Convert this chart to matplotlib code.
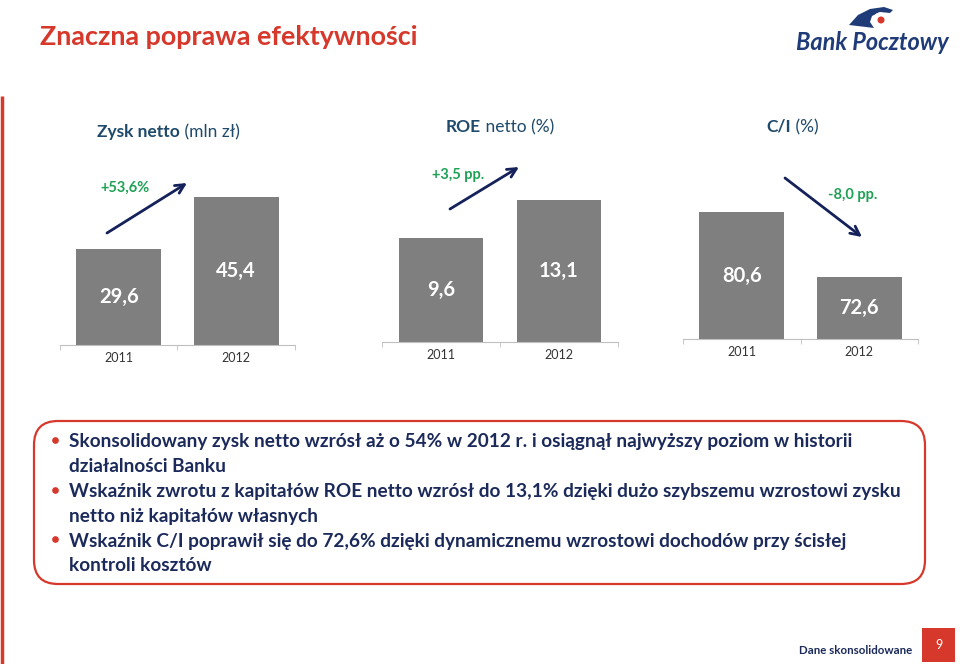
import matplotlib
matplotlib.use('Agg')
import matplotlib.pyplot as plt
from matplotlib.patches import FancyBboxPatch, Rectangle, Circle, Polygon

plt.rcParams['font.family'] = ['Lato', 'DejaVu Sans']

W, H = 960, 664

# data
years = ['2011', '2012']
zysk = [29.6, 45.4]
roe = [9.6, 13.1]
ci = [80.6, 72.6]
changes = ['+53,6%', '+3,5 pp.', '-8,0 pp.']
titles = [('Zysk netto', ' (mln zł)'), ('ROE', ' netto (%)'), ('C/I', ' (%)')]

bullets = [
    ['Skonsolidowany zysk netto wzrósł aż o 54% w 2012 r. i osiągnął najwyższy poziom w historii',
     'działalności Banku'],
    ['Wskaźnik zwrotu z kapitałów ROE netto wzrósł do 13,1% dzięki dużo szybszemu wzrostowi zysku',
     'netto niż kapitałów własnych'],
    ['Wskaźnik C/I poprawił się do 72,6% dzięki dynamicznemu wzrostowi dochodów przy ścisłej',
     'kontroli kosztów'],
]

RED = '#D6382B'
NAVY = '#1B2A5A'
TEAL = '#1F4A6B'
GREEN = '#1FA055'
GREY = '#7F7F7F'


def px_rect(x0, y0, x1, y1):
    return [x0 / W, (H - y1) / H, (x1 - x0) / W, (y1 - y0) / H]


fig = plt.figure(figsize=(9.6, 6.64), dpi=100)

# chart panels: (values, ylim, axes box in px)
panels = [
    (zysk, (0, 60), (60, 345 - 195.6, 295, 345)),
    (roe, (0, 18), (382, 342 - 195.1, 618, 342)),
    (ci, (65, 89), (683, 144, 918, 339)),
]

for vals, ylim, box in panels:
    ax = fig.add_axes(px_rect(*box))
    ax.bar(range(len(years)), [v - ylim[0] for v in vals], bottom=ylim[0],
           width=0.72, color=GREY)
    ax.set_xlim(-0.5, 1.5)
    ax.set_ylim(*ylim)
    for s in ['top', 'left', 'right']:
        ax.spines[s].set_visible(False)
    ax.spines['bottom'].set_color('#BFBFBF')
    ax.set_yticks([])
    ax.set_xticks(range(len(years)))
    ax.set_xticklabels(years, fontsize=9, color='#333333')
    ax.set_xticks([-0.5, 0.5, 1.5], minor=True)
    ax.tick_params(axis='x', which='major', length=0, pad=5)
    ax.tick_params(axis='x', which='minor', length=3.5, color='#BFBFBF')
    ax.patch.set_visible(False)
    for i, v in enumerate(vals):
        ax.text(i, (ylim[0] + v) / 2, f'{v:.1f}'.replace('.', ','),
                ha='center', va='center', color='white', fontsize=14.5,
                fontweight='bold')

# overlay in pixel coordinates
ov = fig.add_axes([0, 0, 1, 1])
ov.set_xlim(0, W)
ov.set_ylim(H, 0)
ov.axis('off')
ov.patch.set_visible(False)

fig.canvas.draw()
rend = fig.canvas.get_renderer()


def text_width(t):
    return t.get_window_extent(renderer=rend).width


# slide title
t = ov.text(40, 37, 'Znaczna poprawa efektywności', color=RED, fontsize=20,
            fontweight='bold', va='center', ha='left')
t.set_fontsize(20 * 378 / text_width(t))

# red left rule
ov.plot([2, 2], [96, H], color=RED, lw=2.5, solid_capstyle='butt')

# panel titles
title_pos = [(97, 132), (446, 127), (766, 127)]
for (b, r), (x, y) in zip(titles, title_pos):
    tb = ov.text(x, y, b, color=TEAL, fontsize=12.5, fontweight='bold',
                 va='center', ha='left')
    wb = text_width(tb)
    ov.text(x + wb, y, r, color=TEAL, fontsize=12.5, va='center', ha='left')

# change labels and arrows
change_pos = [(125, 188), (458, 175), (853, 195)]
arrows = [((107, 233), (187, 183)), ((450, 209), (519, 167)), ((785, 178), (862, 237))]
for txt, (x, y), (p0, p1) in zip(changes, change_pos, arrows):
    ov.text(x, y, txt, color=GREEN, fontsize=10.5, fontweight='bold',
            ha='center', va='center')
    ov.annotate('', xy=p1, xytext=p0,
                arrowprops=dict(arrowstyle='->', color='#14215A', lw=2,
                                mutation_scale=16, shrinkA=0, shrinkB=0))

# text box
box = FancyBboxPatch((34, 421), 891, 163, boxstyle='round,pad=0,rounding_size=24',
                     fc='white', ec=RED, lw=1.6)
ov.add_patch(box)

line_y = 442
probe = ov.text(69, line_y, bullets[0][0], fontsize=12.5, fontweight='bold')
fs = 12.5 * 786 / text_width(probe)
probe.remove()
for group in bullets:
    ov.plot(55, line_y - 2, 'o', color=RED, ms=3.8)
    for line in group:
        ov.text(69, line_y, line, color=NAVY, fontsize=fs, fontweight='bold',
                va='center', ha='left')
        line_y += 24.8

# footer
ov.text(912, 651, 'Dane skonsolidowane', color=NAVY, fontsize=8.3,
        fontweight='bold', ha='right', va='center')
ov.add_patch(Rectangle((922, 628), 33, 34, fc=RED, ec='none'))
ov.text(938.5, 645, '9', color='white', fontsize=9, ha='center', va='center')

# logo
lg = ov.text(872, 42, 'Bank Pocztowy', color='#1F3B78', fontsize=16,
             fontweight='bold', style='italic', ha='center', va='center')
lg.set_fontsize(16 * 153 / text_width(lg))
ov.add_patch(Polygon([(849, 25), (858, 15), (870, 9), (884, 7), (893, 10),
                      (890, 13), (880, 12), (872, 16), (870, 22), (874, 28),
                      (866, 27)], closed=True, fc='#1F3B78', ec='none'))
ov.add_patch(Circle((880, 19), 6.5, fc='white', ec='none'))
ov.add_patch(Circle((881, 20), 3.5, fc=RED, ec='none'))

fig.savefig('out.png', dpi=100)
